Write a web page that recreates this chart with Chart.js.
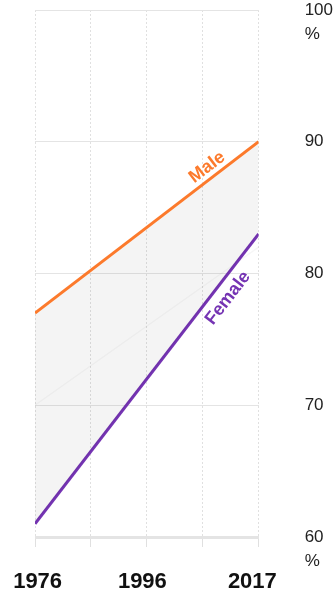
<!DOCTYPE html>
<html>
<head>
<meta charset="utf-8">
<script src="https://cdn.jsdelivr.net/npm/chart.js@4/dist/chart.umd.min.js"></script>
<style>
  html, body { margin: 0; padding: 0; background: #fff; }
  canvas { display: block; }
</style>
</head>
<body>
<canvas id="chart" width="336" height="593"></canvas>
<script>
// Life expectancy at the start and end of the period, in percent
const years = [1976, 2017];
const male = [77, 90];
const female = [61, 83];
const overall = [70, 82];

const xTickLabels = ['1976', '1996', '2017'];
const yTickValues = [60, 70, 80, 90, 100];
const percentTicks = [60, 100];

const FONT = "'Liberation Sans', Arial, Helvetica, sans-serif";
const ORANGE = '#fc7a2c';
const PURPLE = '#7534b3';

const toPoints = vals => years.map((yr, i) => ({ x: yr, y: vals[i] }));

// Series names written along their own lines
const lineLabels = {
  id: 'lineLabels',
  afterDatasetsDraw(chart) {
    const ctx = chart.ctx;
    const items = [
      { ds: 0, text: 'Male', color: ORANGE, t: 0.80, off: -11 },
      { ds: 1, text: 'Female', color: PURPLE, t: 0.81, off: 15 }
    ];
    items.forEach(it => {
      const pts = chart.getDatasetMeta(it.ds).data;
      const p0 = pts[0], p1 = pts[pts.length - 1];
      const dx = p1.x - p0.x, dy = p1.y - p0.y;
      const len = Math.hypot(dx, dy);
      const ux = dx / len, uy = dy / len;
      const ax = p0.x + dx * it.t, ay = p0.y + dy * it.t;
      const cx = ax - uy * it.off, cy = ay + ux * it.off;
      ctx.save();
      ctx.translate(cx, cy);
      ctx.rotate(Math.atan2(dy, dx));
      ctx.font = 'bold 18px ' + FONT;
      ctx.fillStyle = it.color;
      ctx.textAlign = 'center';
      ctx.textBaseline = 'middle';
      ctx.fillText(it.text, 0, 0);
      ctx.restore();
    });
  }
};

// Unit sign under the first and last value of the scale
const percentSign = {
  id: 'percentSign',
  afterDraw(chart) {
    const scale = chart.scales.y;
    const ctx = chart.ctx;
    ctx.save();
    ctx.font = '17px ' + FONT;
    ctx.fillStyle = '#222';
    ctx.textAlign = 'left';
    ctx.textBaseline = 'middle';
    percentTicks.forEach(v => {
      ctx.fillText('%', scale.left + scale.options.grid.tickLength, scale.getPixelForValue(v) + 24);
    });
    ctx.restore();
  }
};

new Chart(document.getElementById('chart'), {
  type: 'line',
  data: {
    datasets: [
      {
        label: 'Male',
        data: toPoints(male),
        borderColor: ORANGE,
        borderWidth: 3,
        pointRadius: 0,
        fill: '+1',
        backgroundColor: 'rgba(0,0,0,0.045)',
        order: 1
      },
      {
        label: 'Female',
        data: toPoints(female),
        borderColor: PURPLE,
        borderWidth: 3,
        pointRadius: 0,
        fill: false,
        order: 1
      },
      {
        label: 'Total',
        data: toPoints(overall),
        borderColor: 'rgba(0,0,0,0.035)',
        borderWidth: 1.5,
        pointRadius: 0,
        fill: false,
        order: 2
      }
    ]
  },
  options: {
    responsive: false,
    devicePixelRatio: 1,
    animation: false,
    layout: { padding: { left: 35, top: 10, right: 3, bottom: 0 } },
    plugins: {
      legend: { display: false },
      tooltip: { enabled: false }
    },
    scales: {
      x: {
        type: 'linear',
        position: 'bottom',
        min: years[0],
        max: years[years.length - 1],
        afterBuildTicks(scale) {
          const n = 4;
          scale.ticks = Array.from({ length: n + 1 }, (_, i) => ({
            value: scale.min + (scale.max - scale.min) * i / n
          }));
        },
        ticks: { display: false },
        grid: {
          color: '#e0e0e0',
          lineWidth: 1,
          tickLength: 10,
          tickColor: '#e0e0e0'
        },
        border: { display: false, dash: [2, 2] }
      },
      x2: {
        type: 'linear',
        position: 'bottom',
        min: 1975.5,
        max: 2018.2,
        afterBuildTicks(scale) {
          scale.ticks = xTickLabels.map(l => ({ value: Number(l) }));
        },
        ticks: {
          padding: 0,
          maxRotation: 0,
          autoSkip: false,
          color: '#111',
          font: { family: FONT, size: 22, weight: 'bold', lineHeight: 1 },
          callback: v => String(v)
        },
        grid: { color: 'rgba(0,0,0,0)', tickLength: 24, tickColor: 'rgba(0,0,0,0)' },
        border: { display: false }
      },
      y: {
        type: 'linear',
        position: 'right',
        min: 60,
        max: 100,
        afterBuildTicks(scale) {
          scale.ticks = yTickValues.map(v => ({ value: v }));
        },
        ticks: {
          padding: 0,
          color: '#222',
          font: { family: FONT, size: 17, lineHeight: 1.1 },
          callback: v => String(v)
        },
        grid: {
          color: '#e4e4e4',
          lineWidth: ctx => (ctx.tick && ctx.tick.value === 60 ? 3 : 1),
          tickLength: 46,
          tickColor: 'rgba(0,0,0,0)'
        },
        border: { display: false }
      }
    }
  },
  plugins: [lineLabels, percentSign]
});
</script>
</body>
</html>
